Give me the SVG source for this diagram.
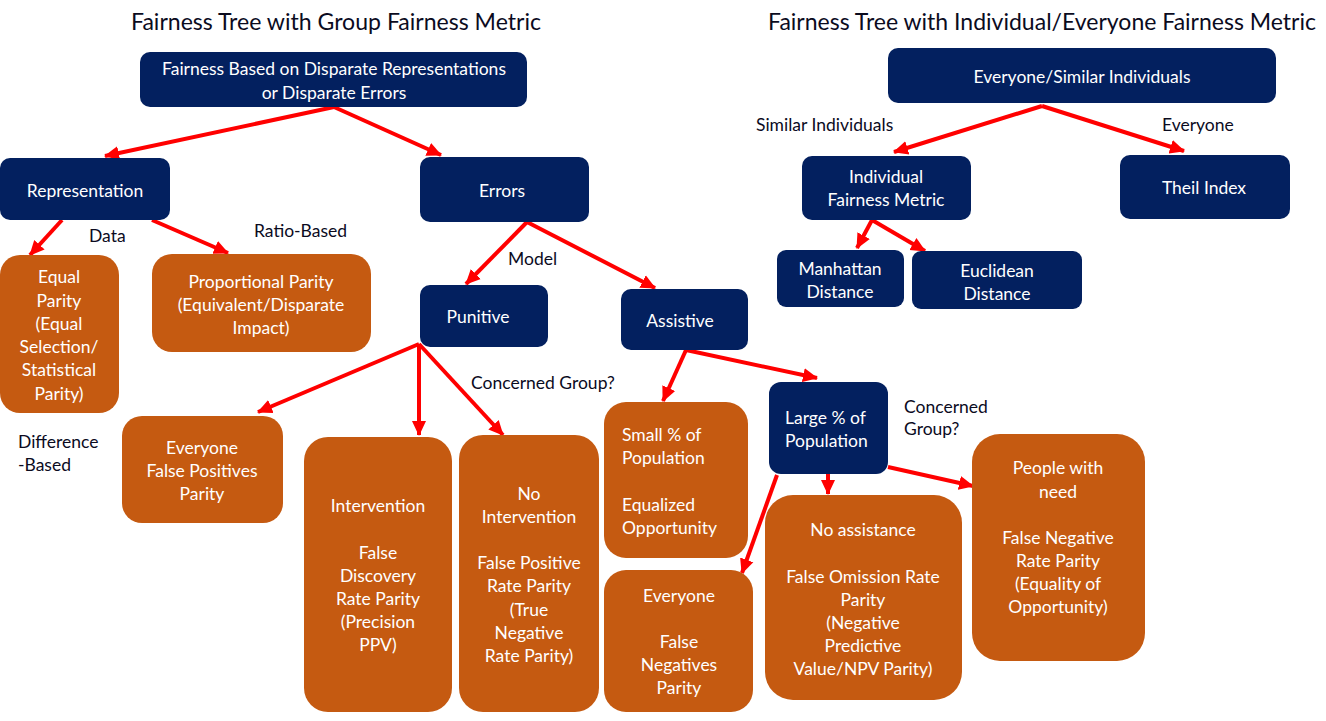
<svg xmlns="http://www.w3.org/2000/svg" width="1326" height="721" viewBox="0 0 1326 721">
<defs>
<marker id="ah" markerUnits="userSpaceOnUse" markerWidth="16" markerHeight="16" viewBox="0 0 16 16" refX="14" refY="8" orient="auto">
<path d="M0,1 L15,8 L0,15 Z" fill="#FF0000"/>
</marker>
<style>
.navy{fill:#03205F}
.orng{fill:#C55A11}
.t{font-family:Lato,"Open Sans","Liberation Sans",sans-serif;font-size:17.5px;fill:#FFFFFF;text-anchor:middle;dominant-baseline:central}
.tl{font-family:Lato,"Open Sans","Liberation Sans",sans-serif;font-size:17.5px;fill:#FFFFFF;dominant-baseline:central}
.lab{font-family:Lato,"Open Sans","Liberation Sans",sans-serif;font-size:17.5px;fill:#0B0B1E;dominant-baseline:central}
.title{font-family:Lato,"Open Sans","Liberation Sans",sans-serif;font-size:22.5px;fill:#0B0B1E}
.c{fill:none;stroke:#FF0000;stroke-width:4;marker-end:url(#ah)}
</style>
</defs>
<rect width="1326" height="721" fill="#FFFFFF"/>
<text class="title" x="131" y="30" textLength="410" lengthAdjust="spacingAndGlyphs">Fairness Tree with Group Fairness Metric</text>
<text class="title" x="768" y="30" textLength="548" lengthAdjust="spacingAndGlyphs">Fairness Tree with Individual/Everyone Fairness Metric</text>

<g id="connectors">
<line class="c" x1="334" y1="107" x2="105" y2="156"/>
<line class="c" x1="334" y1="107" x2="441" y2="155"/>
<line class="c" x1="62" y1="220" x2="30" y2="255"/>
<line class="c" x1="152" y1="220" x2="228" y2="253"/>
<line class="c" x1="527" y1="222" x2="466" y2="284"/>
<line class="c" x1="527" y1="222" x2="655" y2="288"/>
<line class="c" x1="419" y1="344" x2="258" y2="412"/>
<line class="c" x1="419" y1="344" x2="419" y2="435"/>
<line class="c" x1="419" y1="344" x2="503" y2="435"/>
<line class="c" x1="686" y1="350" x2="663" y2="401"/>
<line class="c" x1="686" y1="350" x2="817" y2="378"/>
<line class="c" x1="777" y1="475" x2="742" y2="573"/>
<line class="c" x1="828" y1="474" x2="828" y2="494"/>
<line class="c" x1="888" y1="467" x2="973" y2="486"/>
<line class="c" x1="1042" y1="106" x2="894" y2="152"/>
<line class="c" x1="1042" y1="106" x2="1184" y2="151"/>
<line class="c" x1="872" y1="220" x2="857" y2="248"/>
<line class="c" x1="872" y1="220" x2="925" y2="251"/>
</g>

<g id="labels">
<text class="lab" x="89" y="235">Data</text>
<text class="lab" x="254" y="230">Ratio-Based</text>
<text class="lab" x="18" y="441">Difference</text>
<text class="lab" x="18" y="464">-Based</text>
<text class="lab" x="508" y="258">Model</text>
<text class="lab" x="471" y="382">Concerned Group?</text>
<text class="lab" x="904" y="406">Concerned</text>
<text class="lab" x="904" y="428">Group?</text>
<text class="lab" x="756" y="124">Similar Individuals</text>
<text class="lab" x="1162" y="124">Everyone</text>
</g>

<g id="n-root">
<rect class="navy" x="140" y="52" width="387" height="55" rx="10"/>
<text class="t" x="334" y="68">Fairness Based on Disparate Representations</text>
<text class="t" x="334" y="92">or Disparate Errors</text>
</g>
<g id="n-representation">
<rect class="navy" x="0" y="158" width="170" height="62" rx="10"/>
<text class="t" x="85" y="190">Representation</text>
</g>
<g id="n-errors">
<rect class="navy" x="420" y="157" width="169" height="65" rx="10"/>
<text class="t" x="502" y="190">Errors</text>
</g>
<g id="n-equal-parity">
<rect class="orng" x="0" y="255" width="119" height="158" rx="20"/>
<text class="t" x="59" y="276">Equal</text>
<text class="t" x="59" y="300">Parity</text>
<text class="t" x="59" y="323">(Equal</text>
<text class="t" x="59" y="346">Selection/</text>
<text class="t" x="59" y="369">Statistical</text>
<text class="t" x="59" y="393">Parity)</text>
</g>
<g id="n-proportional">
<rect class="orng" x="152" y="254" width="219" height="98" rx="20"/>
<text class="t" x="261" y="281">Proportional Parity</text>
<text class="t" x="261" y="304">(Equivalent/Disparate</text>
<text class="t" x="261" y="327">Impact)</text>
</g>
<g id="n-punitive">
<rect class="navy" x="420" y="285" width="128" height="62" rx="10"/>
<text class="t" x="478" y="316">Punitive</text>
</g>
<g id="n-assistive">
<rect class="navy" x="621" y="289" width="127" height="61" rx="10"/>
<text class="t" x="680" y="320">Assistive</text>
</g>
<g id="n-everyone-fp">
<rect class="orng" x="122" y="416" width="161" height="107" rx="20"/>
<text class="t" x="202" y="447">Everyone</text>
<text class="t" x="202" y="470">False Positives</text>
<text class="t" x="202" y="493">Parity</text>
</g>
<g id="n-intervention">
<rect class="orng" x="304" y="437" width="148" height="275" rx="24"/>
<text class="t" x="378" y="505">Intervention</text>
<text class="t" x="378" y="552">False</text>
<text class="t" x="378" y="575">Discovery</text>
<text class="t" x="378" y="598">Rate Parity</text>
<text class="t" x="378" y="621">(Precision</text>
<text class="t" x="378" y="644">PPV)</text>
</g>
<g id="n-no-intervention">
<rect class="orng" x="459" y="435" width="140" height="277" rx="24"/>
<text class="t" x="529" y="493">No</text>
<text class="t" x="529" y="516">Intervention</text>
<text class="t" x="529" y="562">False Positive</text>
<text class="t" x="529" y="585">Rate Parity</text>
<text class="t" x="529" y="609">(True</text>
<text class="t" x="529" y="632">Negative</text>
<text class="t" x="529" y="655">Rate Parity)</text>
</g>
<g id="n-small">
<rect class="orng" x="604" y="402" width="144" height="156" rx="22"/>
<text class="tl" x="622" y="434">Small % of</text>
<text class="tl" x="622" y="457">Population</text>
<text class="tl" x="622" y="504">Equalized</text>
<text class="tl" x="622" y="527">Opportunity</text>
</g>
<g id="n-everyone-fn">
<rect class="orng" x="604" y="570" width="149" height="142" rx="22"/>
<text class="t" x="679" y="595">Everyone</text>
<text class="t" x="679" y="641">False</text>
<text class="t" x="679" y="664">Negatives</text>
<text class="t" x="679" y="687">Parity</text>
</g>
<g id="n-large">
<rect class="navy" x="769" y="382" width="119" height="92" rx="12"/>
<text class="tl" x="785" y="417">Large % of</text>
<text class="tl" x="785" y="440">Population</text>
</g>
<g id="n-no-assistance">
<rect class="orng" x="765" y="495" width="197" height="205" rx="28"/>
<text class="t" x="863" y="529">No assistance</text>
<text class="t" x="863" y="576">False Omission Rate</text>
<text class="t" x="863" y="599">Parity</text>
<text class="t" x="863" y="622">(Negative</text>
<text class="t" x="863" y="645">Predictive</text>
<text class="t" x="863" y="668">Value/NPV Parity)</text>
</g>
<g id="n-people-need">
<rect class="orng" x="972" y="434" width="173" height="227" rx="28"/>
<text class="t" x="1058" y="467">People with</text>
<text class="t" x="1058" y="491">need</text>
<text class="t" x="1058" y="537">False Negative</text>
<text class="t" x="1058" y="560">Rate Parity</text>
<text class="t" x="1058" y="583">(Equality of</text>
<text class="t" x="1058" y="606">Opportunity)</text>
</g>

<g id="n-everyone-similar">
<rect class="navy" x="888" y="48" width="388" height="55" rx="10"/>
<text class="t" x="1082" y="76">Everyone/Similar Individuals</text>
</g>
<g id="n-individual">
<rect class="navy" x="802" y="156" width="169" height="64" rx="10"/>
<text class="t" x="886" y="176">Individual</text>
<text class="t" x="886" y="199">Fairness Metric</text>
</g>
<g id="n-theil">
<rect class="navy" x="1120" y="155" width="170" height="64" rx="10"/>
<text class="t" x="1204" y="187">Theil Index</text>
</g>
<g id="n-manhattan">
<rect class="navy" x="777" y="250" width="127" height="57" rx="9"/>
<text class="t" x="840" y="268">Manhattan</text>
<text class="t" x="840" y="291">Distance</text>
</g>
<g id="n-euclidean">
<rect class="navy" x="912" y="251" width="170" height="58" rx="9"/>
<text class="t" x="997" y="270">Euclidean</text>
<text class="t" x="997" y="293">Distance</text>
</g>
</svg>
